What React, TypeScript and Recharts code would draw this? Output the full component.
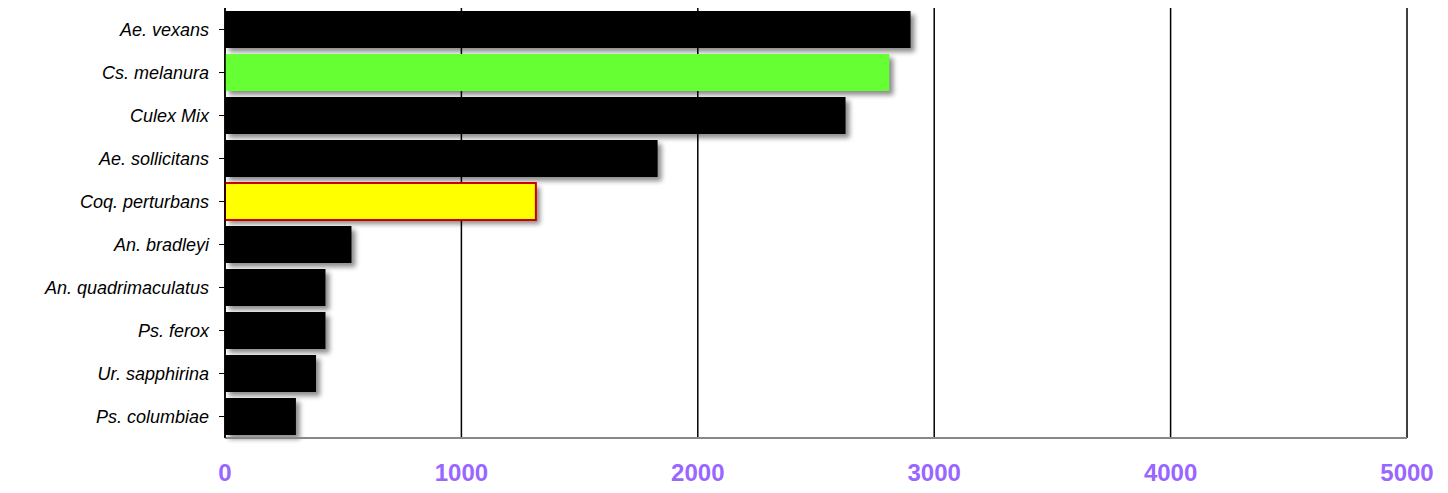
import React from 'react';
import { BarChart, Bar, XAxis, YAxis, CartesianGrid, Cell } from 'recharts';

const species = [
  'Ae. vexans', 'Cs. melanura', 'Culex Mix', 'Ae. sollicitans', 'Coq. perturbans',
  'An. bradleyi', 'An. quadrimaculatus', 'Ps. ferox', 'Ur. sapphirina', 'Ps. columbiae',
];
const counts = [2900, 2810, 2625, 1830, 1315, 535, 425, 425, 385, 300];
const xTicks = [0, 1000, 2000, 3000, 4000, 5000];

const fills: Record<string, string> = { 'Cs. melanura': '#66ff33', 'Coq. perturbans': '#ffff00' };
const strokes: Record<string, string> = { 'Coq. perturbans': '#cc0000' };

const data = species.map((name, i) => ({ name, count: counts[i] }));

const ShadowBar = (props: any) => {
  const { x, y, width, height, fill, stroke } = props;
  return (
    <g>
      <rect x={x + 4} y={y + 4} width={width} height={height} fill="#000" opacity={0.45} filter="url(#blur)" />
      <rect x={x} y={y} width={width} height={height} fill={fill}
        stroke={stroke || 'none'} strokeWidth={stroke ? 2 : 0} />
    </g>
  );
};

export default function App() {
  return (
    <div>
      <style>{`body{margin:0}`}</style>
      <BarChart width={1448} height={493} data={data} layout="vertical"
        margin={{ top: 8, right: 41, bottom: 25, left: 0 }} barSize={37}>
        <defs>
          <filter id="blur" x="-10%" y="-20%" width="130%" height="160%">
            <feGaussianBlur stdDeviation="2.5" />
          </filter>
        </defs>
        <CartesianGrid horizontal={false} stroke="#000" strokeWidth={1.5} />
        <XAxis type="number" domain={[0, 5000]} ticks={xTicks} axisLine={{ stroke: '#888', strokeWidth: 2 }}
          tickLine={false} tickMargin={20} height={30}
          tick={{ fill: '#9966ff', fontSize: 24, fontWeight: 'bold', fontFamily: 'Liberation Sans, Arial' }} />
        <YAxis type="category" dataKey="name" width={225} axisLine={{ stroke: '#000', strokeWidth: 1.5 }}
          tickLine={{ stroke: '#000' }} tickSize={6} tickMargin={10} interval={0}
          tick={{ fill: '#000', fontSize: 18, fontStyle: 'italic', fontFamily: 'Liberation Sans, Arial' }} />
        <Bar dataKey="count" isAnimationActive={false} shape={ShadowBar}>
          {data.map((d) => (
            <Cell key={d.name} fill={fills[d.name] || '#000'} stroke={strokes[d.name]} />
          ))}
        </Bar>
      </BarChart>
    </div>
  );
}
